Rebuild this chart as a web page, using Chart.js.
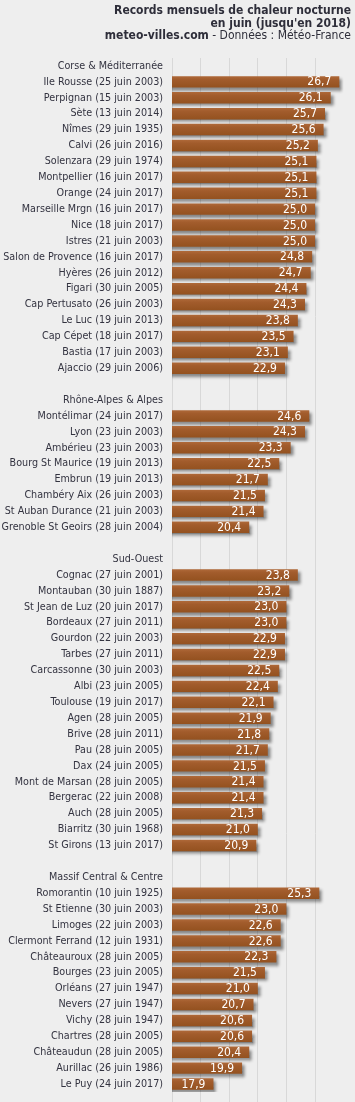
<!DOCTYPE html>
<html>
<head>
<meta charset="utf-8">
<script src="https://cdn.jsdelivr.net/npm/chart.js@4"></script>
<style>
  html, body { margin: 0; padding: 0; background: #eeeeee; }
  body { width: 355px; height: 1102px; position: relative; overflow: hidden; }
  #title { position: absolute; right: 4px; top: 4px; text-align: right; color: #2e2e3a;
           font-family: "DejaVu Sans Condensed", "DejaVu Sans", sans-serif; font-size: 12px; line-height: 12.5px; z-index: 2; }
  #title .b { font-weight: bold; }
  #wrap { position: absolute; left: 0; top: 0; width: 355px; height: 1102px; }
</style>
</head>
<body>
<div id="title">
  <div class="b">Records mensuels de chaleur nocturne</div>
  <div class="b">en juin (jusqu'en 2018)</div>
  <div><span class="b">meteo-villes.com</span> - Données : Météo-France</div>
</div>
<div id="wrap"><canvas id="c" width="355" height="1102"></canvas></div>
<script>
// ---- data ----
const groupCorse = "Corse & Méditerranée";
const labelsCorse = ["Ile Rousse (25 juin 2003)", "Perpignan (15 juin 2003)", "Sète (13 juin 2014)", "Nîmes (29 juin 1935)", "Calvi (26 juin 2016)", "Solenzara (29 juin 1974)", "Montpellier (16 juin 2017)", "Orange (24 juin 2017)", "Marseille Mrgn (16 juin 2017)", "Nice (18 juin 2017)", "Istres (21 juin 2003)", "Salon de Provence (16 juin 2017)", "Hyères (26 juin 2012)", "Figari (30 juin 2005)", "Cap Pertusato (26 juin 2003)", "Le Luc (19 juin 2013)", "Cap Cépet (18 juin 2017)", "Bastia (17 juin 2003)", "Ajaccio (29 juin 2006)"];
const valuesCorse = [26.7, 26.1, 25.7, 25.6, 25.2, 25.1, 25.1, 25.1, 25.0, 25.0, 25.0, 24.8, 24.7, 24.4, 24.3, 23.8, 23.5, 23.1, 22.9];

const groupRhone = "Rhône-Alpes & Alpes";
const labelsRhone = ["Montélimar (24 juin 2017)", "Lyon (23 juin 2003)", "Ambérieu (23 juin 2003)", "Bourg St Maurice (19 juin 2013)", "Embrun (19 juin 2013)", "Chambéry Aix (26 juin 2003)", "St Auban Durance (21 juin 2003)", "Grenoble St Geoirs (28 juin 2004)"];
const valuesRhone = [24.6, 24.3, 23.3, 22.5, 21.7, 21.5, 21.4, 20.4];

const groupSudOuest = "Sud-Ouest";
const labelsSudOuest = ["Cognac (27 juin 2001)", "Montauban (30 juin 1887)", "St Jean de Luz (20 juin 2017)", "Bordeaux (27 juin 2011)", "Gourdon (22 juin 2003)", "Tarbes (27 juin 2011)", "Carcassonne (30 juin 2003)", "Albi (23 juin 2005)", "Toulouse (19 juin 2017)", "Agen (28 juin 2005)", "Brive (28 juin 2011)", "Pau (28 juin 2005)", "Dax (24 juin 2005)", "Mont de Marsan (28 juin 2005)", "Bergerac (22 juin 2008)", "Auch (28 juin 2005)", "Biarritz (30 juin 1968)", "St Girons (13 juin 2017)"];
const valuesSudOuest = [23.8, 23.2, 23.0, 23.0, 22.9, 22.9, 22.5, 22.4, 22.1, 21.9, 21.8, 21.7, 21.5, 21.4, 21.4, 21.3, 21.0, 20.9];

const groupMassif = "Massif Central & Centre";
const labelsMassif = ["Romorantin (10 juin 1925)", "St Etienne (30 juin 2003)", "Limoges (22 juin 2003)", "Clermont Ferrand (12 juin 1931)", "Châteauroux (28 juin 2005)", "Bourges (23 juin 2005)", "Orléans (27 juin 1947)", "Nevers (27 juin 1947)", "Vichy (28 juin 1947)", "Chartres (28 juin 2005)", "Châteaudun (28 juin 2005)", "Aurillac (26 juin 1986)", "Le Puy (24 juin 2017)"];
const valuesMassif = [25.3, 23.0, 22.6, 22.6, 22.3, 21.5, 21.0, 20.7, 20.6, 20.6, 20.4, 19.9, 17.9];

const axisMin = 15, axisMax = 27, axisStep = 2;

// ---- build category list (group header rows and blank separator rows carry no bar) ----
const groups = [
  [groupCorse, labelsCorse, valuesCorse],
  [groupRhone, labelsRhone, valuesRhone],
  [groupSudOuest, labelsSudOuest, valuesSudOuest],
  [groupMassif, labelsMassif, valuesMassif]
];
const categories = [];
const values = [];
groups.forEach((g, gi) => {
  if (gi > 0) { categories.push(""); values.push(null); }
  categories.push(g[0]); values.push(null);
  g[1].forEach((l, i) => { categories.push(l); values.push(g[2][i]); });
});

const FONT = '"DejaVu Sans Condensed", "DejaVu Sans", sans-serif';

const shadowPlugin = {
  id: 'barShadow',
  beforeDatasetsDraw(chart) {
    const ctx = chart.ctx;
    ctx.save();
    ctx.shadowColor = 'rgba(0,0,0,0.45)';
    ctx.shadowOffsetX = 3;
    ctx.shadowOffsetY = 3;
    ctx.shadowBlur = 3;
  },
  afterDatasetsDraw(chart) {
    chart.ctx.restore();
    const ctx = chart.ctx;
    const meta = chart.getDatasetMeta(0);
    ctx.save();
    ctx.font = '12px ' + FONT;
    ctx.fillStyle = '#ffffff';
    ctx.textAlign = 'right';
    ctx.textBaseline = 'middle';
    meta.data.forEach((bar, i) => {
      const v = chart.data.datasets[0].data[i];
      if (v === null) return;
      ctx.fillText(v.toFixed(1).replace('.', ','), bar.x - 8, bar.y + 0.5);
    });
    ctx.restore();
  }
};

function barFill(c) {
  const chart = c.chart;
  const y = chart.scales && chart.scales.y;
  if (!y || c.dataIndex === undefined || !chart.chartArea) return '#a05a2c';
  const cy = y.getPixelForValue(c.dataIndex);
  const g = chart.ctx.createLinearGradient(0, cy - 6, 0, cy + 6);
  g.addColorStop(0, '#b06a3a');
  g.addColorStop(0.3, '#a25c2c');
  g.addColorStop(1, '#93511f');
  return g;
}

new Chart(document.getElementById('c'), {
  type: 'bar',
  data: {
    labels: categories,
    datasets: [{
      data: values,
      backgroundColor: barFill,
      borderWidth: 0,
      barPercentage: 0.72,
      categoryPercentage: 1
    }]
  },
  options: {
    indexAxis: 'y',
    responsive: false,
    animation: false,
    events: [],
    layout: { padding: { top: 58, right: 355 - (172 + (axisMax - axisMin) * 14.3), left: 0, bottom: 0 } },
    plugins: { legend: { display: false }, tooltip: { enabled: false }, title: { display: false } },
    scales: {
      x: {
        type: 'linear',
        min: axisMin,
        max: axisMax,
        afterFit(scale) { scale.height = 10; },
        ticks: { stepSize: axisStep, display: false },
        grid: {
          color: (c) => (c.tick && c.tick.value === axisMax) ? 'rgba(0,0,0,0)' : '#d8d8d8',
          lineWidth: 1,
          drawTicks: true,
          tickLength: 10
        },
        border: { display: false }
      },
      y: {
        type: 'category',
        afterFit(scale) { scale.width = 172; },
        grid: { display: false, drawTicks: true, tickLength: 9 },
        border: { display: false },
        ticks: {
          autoSkip: false,
          padding: 0,
          color: '#333340',
          font: { family: FONT, size: 10.7 }
        }
      }
    }
  },
  plugins: [shadowPlugin]
});
</script>
</body>
</html>
